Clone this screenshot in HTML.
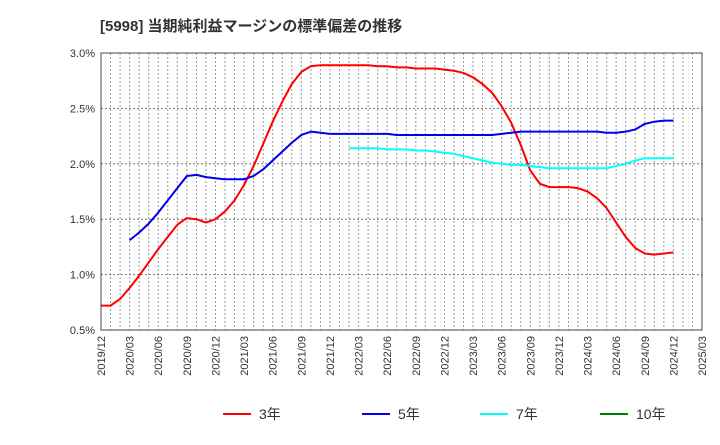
<!DOCTYPE html>
<html><head><meta charset="utf-8"><style>
body{margin:0;background:#fff;font-family:"Liberation Sans","Noto Sans CJK JP",sans-serif;}
</style></head><body>
<svg id="chart" width="720" height="440" xmlns="http://www.w3.org/2000/svg" font-family="Liberation Sans, Noto Sans CJK JP, sans-serif">
<text x="100" y="31" font-size="15" font-weight="bold" fill="#333">[5998]  当期純利益マージンの標準偏差の推移</text>
<g id="grid"></g><g id="axes"></g><g id="series"></g><g id="legend"></g>
</svg>
<script>
const yTicks=[0.5,1.0,1.5,2.0,2.5,3.0];
const xTickLabels=["2019/12","2020/03","2020/06","2020/09","2020/12","2021/03","2021/06","2021/09","2021/12","2022/03","2022/06","2022/09","2022/12","2023/03","2023/06","2023/09","2023/12","2024/03","2024/06","2024/09","2024/12","2025/03"];
const s3Start=0;
const s3=[0.72,0.72,0.78,0.88,0.99,1.11,1.23,1.34,1.45,1.51,1.50,1.47,1.50,1.57,1.67,1.81,1.98,2.18,2.38,2.56,2.72,2.83,2.88,2.89,2.89,2.89,2.89,2.89,2.89,2.88,2.88,2.87,2.87,2.86,2.86,2.86,2.85,2.84,2.82,2.78,2.72,2.64,2.52,2.37,2.17,1.94,1.82,1.79,1.79,1.79,1.78,1.75,1.69,1.60,1.47,1.34,1.24,1.19,1.18,1.19,1.20];
const s5Start=3;
const s5=[1.31,1.38,1.46,1.56,1.67,1.78,1.89,1.90,1.88,1.87,1.86,1.86,1.86,1.89,1.95,2.03,2.11,2.19,2.26,2.29,2.28,2.27,2.27,2.27,2.27,2.27,2.27,2.27,2.26,2.26,2.26,2.26,2.26,2.26,2.26,2.26,2.26,2.26,2.26,2.27,2.28,2.29,2.29,2.29,2.29,2.29,2.29,2.29,2.29,2.29,2.28,2.28,2.29,2.31,2.36,2.38,2.39,2.39];
const s7Start=26;
const s7=[2.14,2.14,2.14,2.14,2.13,2.13,2.13,2.12,2.12,2.11,2.10,2.09,2.07,2.05,2.03,2.01,2.00,1.99,1.99,1.98,1.97,1.96,1.96,1.96,1.96,1.96,1.96,1.96,1.98,2.00,2.03,2.05,2.05,2.05,2.05];
const L=101,R=702,T=53,B=330,NM=63;
const xS=m=>L+(R-L)*m/NM, yS=v=>B-(B-T)*(v-0.5)/2.5;
const NS="http://www.w3.org/2000/svg";
function mk(p,t,a){const e=document.createElementNS(NS,t);for(const k in a)e.setAttribute(k,a[k]);p.appendChild(e);return e;}
const g=document.getElementById('grid'),ax=document.getElementById('axes'),se=document.getElementById('series'),lg=document.getElementById('legend');
for(let m=1;m<NM;m++){const l=mk(g,'line',{x1:xS(m),x2:xS(m),y1:T,y2:B,stroke:'#999','stroke-dasharray':'2,2','stroke-width':1});

}
yTicks.forEach(v=>{const l=mk(g,'line',{x1:L,x2:R,y1:yS(v),y2:yS(v),stroke:'#777','stroke-dasharray':'2,2','stroke-width':1});


const t=mk(ax,'text',{x:L-6,y:yS(v)+4,'text-anchor':'end','font-size':11,fill:'#333'});t.textContent=v.toFixed(1)+'%';

});
xTickLabels.forEach((s,i)=>{const x=xS(i*3);const t=mk(ax,'text',{x:0,y:0,'text-anchor':'end','font-size':11,fill:'#333',transform:`translate(${x+4},${B+6}) rotate(-90)`});t.textContent=s;

});
const fr=mk(ax,'rect',{x:L,y:T,width:R-L,height:B-T,fill:'none',stroke:'#444','stroke-width':1});


function line(arr,st,col,name){const p=mk(se,'polyline',{points:arr.map((v,i)=>xS(st+i)+','+yS(v)).join(' '),fill:'none',stroke:col,'stroke-width':2,'stroke-linejoin':'round'});

}
line(s3,s3Start,'#ff0000','series-3yr');
line(s5,s5Start,'#0000ee','series-5yr');
line(s7,s7Start,'#00ffff','series-7yr');
const leg=[['3年','#ff0000'],['5年','#0000ee'],['7年','#00ffff'],['10年','#008000']];
leg.forEach(([n,c],i)=>{const lx=[223,362,480,600][i];
const l=mk(lg,'line',{x1:lx,x2:lx+28,y1:414,y2:414,stroke:c,'stroke-width':2});


const t=mk(lg,'text',{x:lx+36,y:419,'font-size':14,fill:'#333'});t.textContent=n;

});
</script>
</body></html>
